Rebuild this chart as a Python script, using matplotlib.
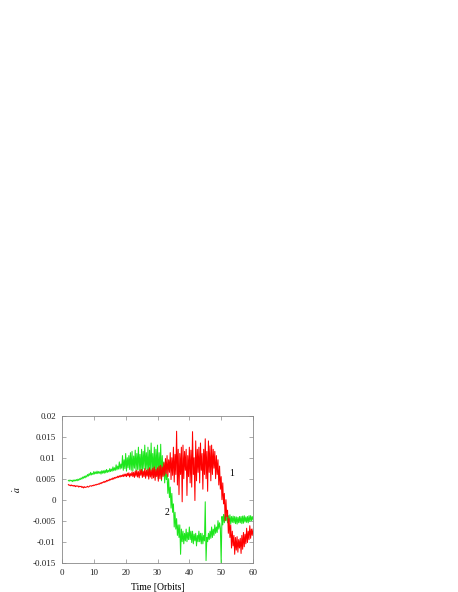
import numpy as np
import matplotlib
matplotlib.use("Agg")
import matplotlib.pyplot as plt

plt.rcParams['font.family'] = ['Liberation Serif', 'DejaVu Serif']
plt.rcParams['axes.unicode_minus'] = False
plt.rcParams['mathtext.fontset'] = 'stix'

t_start, t_step = 2.0, 0.25

series1 = [
    0.0036, 0.0034, 0.0035, 0.0033,
    0.0035, 0.0033, 0.0034, 0.0032,
    0.0034, 0.0031, 0.0033, 0.0032,
    0.0033, 0.0030, 0.0032, 0.0031,
    0.0032, 0.0029, 0.0031, 0.0028,
    0.0031, 0.0029, 0.0030, 0.0030,
    0.0032, 0.0030, 0.0031, 0.0033,
    0.0033, 0.0032, 0.0034, 0.0033,
    0.0035, 0.0034, 0.0036, 0.0035,
    0.0037, 0.0036, 0.0038, 0.0037,
    0.0040, 0.0038, 0.0041, 0.0040,
    0.0043, 0.0041, 0.0044, 0.0042,
    0.0046, 0.0044, 0.0047, 0.0045,
    0.0049, 0.0047, 0.0050, 0.0048,
    0.0052, 0.0049, 0.0053, 0.0051,
    0.0054, 0.0052, 0.0056, 0.0053,
    0.0057, 0.0054, 0.0058, 0.0055,
    0.0059, 0.0055, 0.0061, 0.0056,
    0.0061, 0.0055, 0.0063, 0.0057,
    0.0064, 0.0054, 0.0062, 0.0057,
    0.0066, 0.0055, 0.0065, 0.0053,
    0.0068, 0.0056, 0.0070, 0.0054,
    0.0067, 0.0052, 0.0071, 0.0058,
    0.0072, 0.0053, 0.0068, 0.0055,
    0.0074, 0.0051, 0.0070, 0.0056,
    0.0073, 0.0049, 0.0076, 0.0054,
    0.0071, 0.0050, 0.0075, 0.0052,
    0.0078, 0.0046, 0.0072, 0.0055,
    0.0076, 0.0044, 0.0080, 0.0050,
    0.0082, 0.0048, 0.0078, 0.0055,
    0.0088, 0.0058, 0.0098, 0.0062,
    0.0105, 0.0055, 0.0095, 0.0065,
    0.0112, 0.0048, 0.0100, 0.0058,
    0.0125, 0.0042, 0.0108, 0.0060,
    0.0163, 0.0035, 0.0120, 0.0012,
    0.0110, 0.0060, 0.0125, -0.0005,
    0.0130, 0.0050, 0.0115, 0.0070,
    0.0120, 0.0010, 0.0105, 0.0055,
    0.0125, 0.0040, 0.0118, 0.0030,
    0.0162, 0.0060, 0.0100, -0.0002,
    0.0140, 0.0045, 0.0120, 0.0065,
    0.0125, 0.0040, 0.0135, 0.0070,
    0.0110, 0.0025, 0.0120, 0.0060,
    0.0145, 0.0050, 0.0115, 0.0020,
    0.0140, 0.0065, 0.0128, 0.0045,
    0.0130, 0.0060, 0.0120, 0.0075,
    0.0115, 0.0050, 0.0105, 0.0060,
    0.0095, 0.0035, 0.0080, 0.0025,
    0.0055, 0.0000, 0.0040, -0.0010,
    0.0015, -0.0050, 0.0000, -0.0040,
    -0.0025, -0.0080, -0.0045, -0.0090,
    -0.0060, -0.0115, -0.0075, -0.0110,
    -0.0085, -0.0130, -0.0090, -0.0120,
    -0.0088, -0.0125, -0.0095, -0.0115,
    -0.0092, -0.0128, -0.0085, -0.0118,
    -0.0078, -0.0112, -0.0082, -0.0105,
    -0.0068, -0.0102, -0.0075, -0.0095,
    -0.0062, -0.0092, -0.0070, -0.0085,
    -0.0070,
]

series2 = [
    0.0046, 0.0044, 0.0047, 0.0045,
    0.0046, 0.0043, 0.0047, 0.0044,
    0.0047, 0.0045, 0.0048, 0.0045,
    0.0049, 0.0046, 0.0050, 0.0048,
    0.0052, 0.0049, 0.0054, 0.0051,
    0.0056, 0.0052, 0.0057, 0.0054,
    0.0060, 0.0056, 0.0062, 0.0058,
    0.0065, 0.0059, 0.0063, 0.0060,
    0.0067, 0.0061, 0.0066, 0.0062,
    0.0068, 0.0062, 0.0067, 0.0063,
    0.0067, 0.0061, 0.0069, 0.0063,
    0.0069, 0.0063, 0.0070, 0.0064,
    0.0072, 0.0065, 0.0070, 0.0066,
    0.0074, 0.0067, 0.0073, 0.0068,
    0.0078, 0.0069, 0.0076, 0.0070,
    0.0083, 0.0071, 0.0080, 0.0073,
    0.0090, 0.0073, 0.0085, 0.0075,
    0.0105, 0.0070, 0.0095, 0.0074,
    0.0110, 0.0068, 0.0100, 0.0076,
    0.0105, 0.0072, 0.0112, 0.0070,
    0.0115, 0.0068, 0.0104, 0.0075,
    0.0118, 0.0067, 0.0110, 0.0072,
    0.0125, 0.0070, 0.0108, 0.0066,
    0.0120, 0.0065, 0.0115, 0.0074,
    0.0130, 0.0072, 0.0112, 0.0068,
    0.0125, 0.0060, 0.0118, 0.0070,
    0.0135, 0.0065, 0.0110, 0.0062,
    0.0125, 0.0055, 0.0120, 0.0068,
    0.0130, 0.0050, 0.0112, 0.0060,
    0.0132, 0.0045, 0.0105, 0.0058,
    0.0090, 0.0040, 0.0078, 0.0048,
    0.0060, 0.0015, 0.0050, 0.0005,
    0.0030, -0.0020, 0.0015, -0.0030,
    -0.0010, -0.0065, -0.0030, -0.0070,
    -0.0045, -0.0085, -0.0060, -0.0090,
    -0.0060, -0.0130, -0.0070, -0.0100,
    -0.0075, -0.0105, -0.0080, -0.0098,
    -0.0070, -0.0100, -0.0078, -0.0095,
    -0.0065, -0.0095, -0.0075, -0.0102,
    -0.0075, -0.0105, -0.0082, -0.0098,
    -0.0080, -0.0110, -0.0085, -0.0100,
    -0.0075, -0.0100, -0.0080, -0.0105,
    -0.0080, -0.0105, -0.0085, -0.0098,
    -0.0005, -0.0145, -0.0090, -0.0100,
    -0.0080, -0.0095, -0.0075, -0.0092,
    -0.0065, -0.0090, -0.0070, -0.0085,
    -0.0060, -0.0080, -0.0065, -0.0078,
    -0.0050, -0.0070, -0.0055, -0.0068,
    -0.0150, -0.0040, -0.0060, -0.0035,
    -0.0055, -0.0035, -0.0050, -0.0038,
    -0.0055, -0.0038, -0.0052, -0.0036,
    -0.0058, -0.0040, -0.0054, -0.0039,
    -0.0055, -0.0040, -0.0057, -0.0041,
    -0.0058, -0.0042, -0.0055, -0.0040,
    -0.0055, -0.0040, -0.0057, -0.0039,
    -0.0056, -0.0038, -0.0053, -0.0041,
    -0.0054, -0.0040, -0.0055, -0.0038,
    -0.0052, -0.0038, -0.0050, -0.0040,
    -0.0048,
]

labels = ["1", "2"]
label_pos = [(53.3, 0.0062), (33.0, -0.0031)]

xticks = [0, 10, 20, 30, 40, 50, 60]
yticks = [-0.015, -0.01, -0.005, 0, 0.005, 0.01, 0.015, 0.02]
ytick_labels = ["-0.015", "-0.01", "-0.005", "0", "0.005", "0.01", "0.015", "0.02"]

t1 = np.arange(len(series1)) * t_step + t_start
t2 = np.arange(len(series2)) * t_step + t_start

fig = plt.figure(figsize=(4.58, 5.92), dpi=100)
ax = fig.add_axes([0.1354, 0.0495, 0.417, 0.2483])

ax.plot(t2, series2, color='#1ee61e', lw=0.75)
ax.plot(t1, series1, color='#ff0000', lw=0.75)

for lab, (x, y) in zip(labels, label_pos):
    ax.text(x, y, lab, fontsize=7, ha='center', va='center')

ax.set_xlim(0, 60)
ax.set_ylim(-0.015, 0.02)
ax.set_xticks(xticks)
ax.set_xticklabels([str(v) for v in xticks])
ax.set_yticks(yticks)
ax.set_yticklabels(ytick_labels)
ax.tick_params(direction='in', top=True, right=True, length=3, width=0.5,
               labelsize=6.5, colors='#888888', labelcolor='#222222', pad=4.5)
for s in ax.spines.values():
    s.set_color('#888888')
    s.set_linewidth(0.6)

ax.set_xlabel('Time [Orbits]', fontsize=7, labelpad=4)
ax.set_ylabel(r'$\dot{a}$', fontsize=7, labelpad=7)

fig.savefig('out.png', dpi=100)
